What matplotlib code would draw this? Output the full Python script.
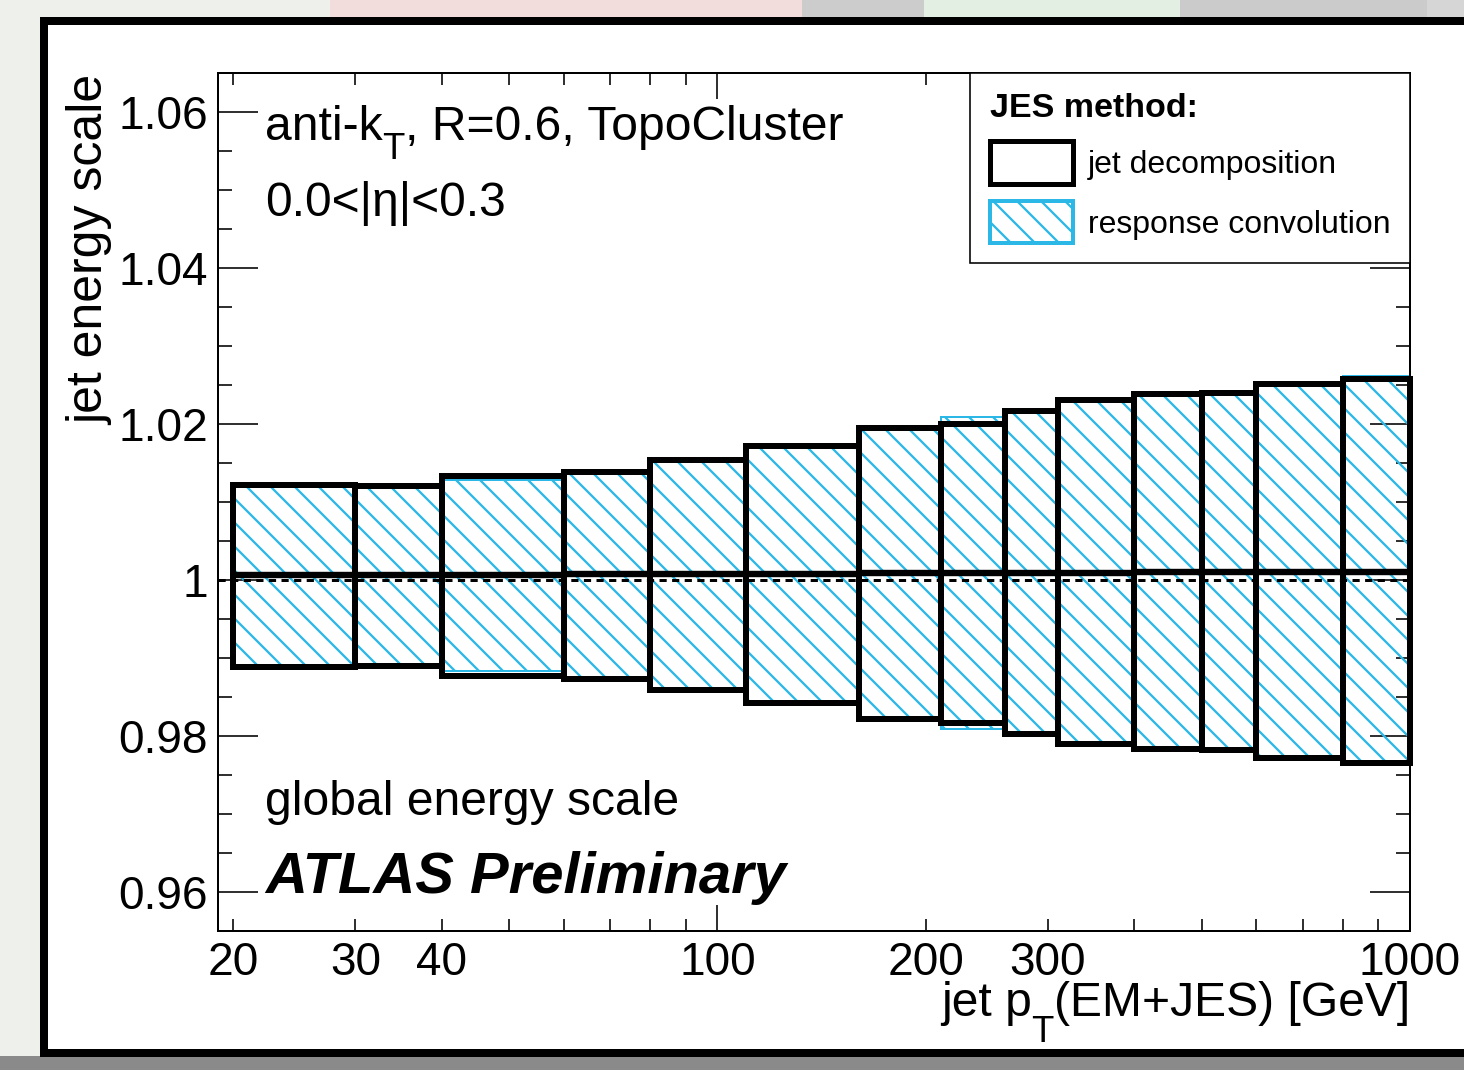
import matplotlib
matplotlib.use('Agg')
import matplotlib.pyplot as plt
import numpy as np
from matplotlib.patches import Rectangle, Patch
from matplotlib.ticker import FixedLocator, FuncFormatter, MultipleLocator

plt.rcParams['font.family'] = ['Liberation Sans', 'DejaVu Sans']
plt.rcParams['hatch.linewidth'] = 1.15

# ---------------- data ----------------
bin_edges = [20, 30, 40, 60, 80, 110, 160, 210, 260, 310, 400, 500, 600, 800, 1000]
# jet decomposition (black boxes)
jd_up = [1.0122, 1.0121, 1.0133, 1.0138, 1.0154, 1.0172, 1.0195, 1.0200,
         1.0217, 1.0231, 1.0238, 1.0240, 1.0251, 1.0258]
jd_down = [0.9888, 0.9890, 0.9877, 0.9873, 0.9859, 0.9842, 0.9822, 0.9817,
           0.9803, 0.9790, 0.9783, 0.9782, 0.9772, 0.9765]
jd_center = [1.0007, 1.0007, 1.0007, 1.0008, 1.0008, 1.0008, 1.0009, 1.0009,
             1.0009, 1.0009, 1.0010, 1.0010, 1.0010, 1.0010]
# response convolution (cyan hatched boxes)
rc_up = [1.0122, 1.0120, 1.0128, 1.0138, 1.0154, 1.0172, 1.0195, 1.0209,
         1.0217, 1.0231, 1.0238, 1.0240, 1.0253, 1.0261]
rc_down = [0.9888, 0.9891, 0.9883, 0.9873, 0.9859, 0.9842, 0.9822, 0.9809,
           0.9803, 0.9790, 0.9783, 0.9782, 0.9772, 0.9765]

x_major_ticks = [100, 1000]
x_minor_ticks = [20, 30, 40, 50, 60, 70, 80, 90, 200, 300, 400, 500, 600, 700, 800, 900]
x_labelled_minor = [20, 30, 40, 200, 300]

CYAN = '#2cb8e6'

# ---------------- figure ----------------
DPI = 144
W, H = 1464, 1070
fig = plt.figure(figsize=(W / DPI, H / DPI), dpi=DPI)
fig.patch.set_facecolor('#eef0ec')


def prect(x0, y0, x1, y1, **kw):
    """Rectangle given in pixel coords (top-left origin) on the figure."""
    r = Rectangle((x0 / W, 1 - y1 / H), (x1 - x0) / W, (y1 - y0) / H,
                  transform=fig.transFigure, figure=fig, **kw)
    fig.patches.append(r)
    return r

# blurred slide background pieces
prect(330, 0, 802, 20, facecolor='#f3dcdc', edgecolor='none', zorder=0)
prect(802, 0, 924, 20, facecolor='#cccccc', edgecolor='none', zorder=0)
prect(924, 0, 1180, 20, facecolor='#e4efe4', edgecolor='none', zorder=0)
prect(1180, 0, 1427, 20, facecolor='#cbcbcb', edgecolor='none', zorder=0)
prect(1427, 0, 1464, 20, facecolor='#d6d6d6', edgecolor='none', zorder=0)
prect(0, 1056, 1464, 1070, facecolor='#8a8a8a', edgecolor='none', zorder=0)
# black frame with white inside
prect(44, 21, 1480, 1053, facecolor='white', edgecolor='black', lw=4, zorder=1)

ax = fig.add_axes([218 / W, 1 - 931 / H, (1410 - 218) / W, (931 - 73) / H])
ax.set_facecolor('none')
ax.set_zorder(2)

edges = np.array(bin_edges, dtype=float)
left = edges[:-1]
width = np.diff(edges)

ax.bar(left, np.array(rc_up) - np.array(rc_down), width=width, bottom=rc_down,
       align='edge', facecolor='none', edgecolor=CYAN, hatch='\\\\', lw=1.0, zorder=2)
ax.axhline(1.0, color='black', lw=1.5, ls=(0, (2.4, 1.8)), zorder=3)
ax.hlines(jd_center, left, edges[1:], colors='black', lw=3.2, zorder=4)
ax.bar(left, np.array(jd_up) - np.array(jd_down), width=width, bottom=jd_down,
       align='edge', facecolor='none', edgecolor='black', lw=3, zorder=4,
       clip_on=False)

ax.set_xscale('log')
ax.set_xlim(19, 1000)
ax.set_ylim(0.955, 1.065)

ax.xaxis.set_major_locator(FixedLocator(x_major_ticks))
ax.xaxis.set_minor_locator(FixedLocator(x_minor_ticks))
ax.xaxis.set_major_formatter(FuncFormatter(lambda v, p: '%d' % v))
ax.xaxis.set_minor_formatter(FuncFormatter(
    lambda v, p: ('%d' % v) if int(round(v)) in x_labelled_minor else ''))
ax.yaxis.set_major_locator(MultipleLocator(0.02))
ax.yaxis.set_minor_locator(MultipleLocator(0.005))
ax.yaxis.set_major_formatter(FuncFormatter(lambda v, p: '%g' % round(v, 3)))

for s in ax.spines.values():
    s.set_linewidth(1.0)

ax.tick_params(axis='both', which='both', direction='in', top=True, right=True,
               width=0.8, labelsize=23)
ax.tick_params(axis='x', which='major', length=13, pad=5)
ax.tick_params(axis='x', which='minor', length=6, pad=5)
ax.tick_params(axis='y', which='major', length=20, pad=5)
ax.tick_params(axis='y', which='minor', length=7)

# legend
handles = [Patch(facecolor='white', edgecolor='black', lw=2.5, label='jet decomposition'),
           Patch(facecolor='white', edgecolor=CYAN, hatch='\\\\', lw=2.0,
                 label='response convolution')]
leg = ax.legend(handles=handles, loc='upper right', bbox_to_anchor=(1, 1),
                borderaxespad=0, fancybox=False, edgecolor='black', framealpha=1,
                title='JES method:', title_fontproperties={'weight': 'bold', 'size': 17},
                alignment='left', fontsize=16, handlelength=2.6, handleheight=1.65,
                labelspacing=0.55, handletextpad=0.45, borderpad=0.62)
leg.get_frame().set_linewidth(0.8)
leg.set_zorder(6)


def chain_text(x, y, parts, transform, fontsize, ha='left', sub_scale=0.76,
               sub_drop=0.40, **kw):
    """Draw text pieces in a row; pieces flagged True are low subscripts."""
    seq = parts if ha == 'left' else parts[::-1]
    prev = None
    for s, sub in seq:
        fs = fontsize * sub_scale if sub else fontsize
        dy = -sub_drop * fontsize if sub else 0.0
        if prev is None:
            t = ax.annotate(s, xy=(x, y), xycoords=transform, xytext=(0, dy),
                            textcoords='offset points', fontsize=fs, ha=ha,
                            va='baseline', annotation_clip=False, **kw)
        else:
            t = ax.annotate(s, xy=(1 if ha == 'left' else 0, y),
                            xycoords=(prev, transform), xytext=(0, dy),
                            textcoords='offset points', fontsize=fs, ha=ha,
                            va='baseline', annotation_clip=False, **kw)
        prev = t


# annotations
chain_text(0.0394, 0.922, [('anti-k', False), ('T', True),
                           (', R=0.6, TopoCluster', False)],
           ax.transAxes, 24, sub_drop=0.40, zorder=7)
ax.text(0.0394, 0.833, '0.0<|η|<0.3', transform=ax.transAxes, fontsize=24,
        va='baseline', zorder=7)
ax.text(0.0394, 0.135, 'global energy scale', transform=ax.transAxes, fontsize=24,
        va='baseline', zorder=7)
ax.text(0.0394, 0.0443, 'ATLAS Preliminary', transform=ax.transAxes, fontsize=29,
        weight='bold', style='italic', va='baseline', zorder=7)

fig.text(90 / W, 1 - 75 / H, 'jet energy scale', rotation=90, ha='center', va='top',
         fontsize=25, zorder=7)
chain_text(1410 / W, 1 - 1016 / H, [('jet p', False), ('T', True),
                                     ('(EM+JES) [GeV]', False)],
           fig.transFigure, 24, ha='right', sub_drop=0.55, zorder=7)

fig.savefig('out.png', dpi=DPI, facecolor=fig.get_facecolor())
